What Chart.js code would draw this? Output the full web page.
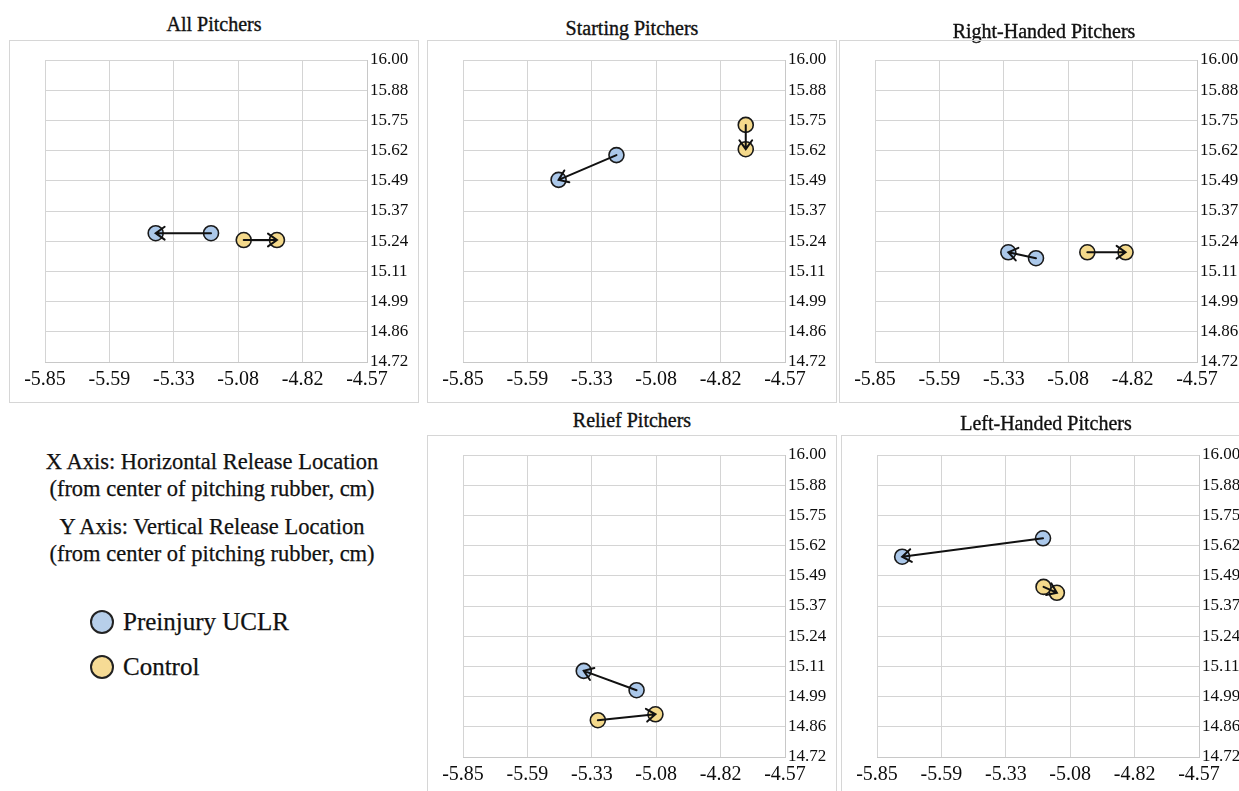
<!DOCTYPE html>
<html>
<head>
<meta charset="utf-8">
<title>Release location</title>
<script src="https://cdn.jsdelivr.net/npm/chart.js@4.4.1/dist/chart.umd.min.js"></script>
<style>
  html, body { margin: 0; padding: 0; background: #fff; overflow: hidden; width: 1239px; height: 791px; }
  body { position: relative; font-family: 'Liberation Serif', 'DejaVu Serif', serif; color: #111; }
  .panel { position: absolute; border: 1px solid #d6d6d6; }
  .panel canvas { display: block; }
  .titulo { position: absolute; width: 420px; text-align: center; font-size: 20px; line-height: 24px; -webkit-text-stroke: 0.35px #111; }
  .nota { position: absolute; left: 12px; width: 400px; text-align: center; font-size: 22.5px; line-height: 27px; -webkit-text-stroke: 0.25px #111; }
  .leyenda { position: absolute; left: 90px; font-size: 25px; line-height: 30px; white-space: nowrap; -webkit-text-stroke: 0.25px #111; }
  .leyenda .punto { display: inline-block; width: 20px; height: 20px; border: 2px solid #222; border-radius: 50%; vertical-align: middle; margin: -4px 9px 0 0; }
</style>
</head>
<body>
<div class="nota" style="top:448px">X Axis: Horizontal Release Location<br>(from center of pitching rubber, cm)</div>
<div class="nota" style="top:513px">Y Axis: Vertical Release Location<br>(from center of pitching rubber, cm)</div>
<div class="leyenda" style="top:607px"><span class="punto" style="background:#b7cfea"></span>Preinjury UCLR</div>
<div class="leyenda" style="top:652px"><span class="punto" style="background:#f6db95"></span>Control</div>

<script>
// ejes (mismas etiquetas en los cinco paneles)
const xTickLabels = ['-5.85', '-5.59', '-5.33', '-5.08', '-4.82', '-4.57'];
const yTickLabels = ['14.72', '14.86', '14.99', '15.11', '15.24', '15.37', '15.49', '15.62', '15.75', '15.88', '16.00'];

const panelTitles = ['All Pitchers', 'Starting Pitchers', 'Right-Handed Pitchers', 'Relief Pitchers', 'Left-Handed Pitchers'];

// Preinjury UCLR: punto de inicio -> punto final (flecha)
const uclrStartX = [-5.19, -5.24, -5.21, -5.16, -5.19];
const uclrStartY = [15.266, 15.597, 15.160, 15.003, 15.647];
const uclrEndX   = [-5.41, -5.47, -5.32, -5.37, -5.75];
const uclrEndY   = [15.266, 15.492, 15.185, 15.085, 15.569];

// Control
const controlStartX = [-5.06, -4.726, -5.006, -5.314, -5.188];
const controlStartY = [15.237, 15.725, 15.185, 14.876, 15.441];
const controlEndX   = [-4.928, -4.726, -4.854, -5.085, -5.135];
const controlEndY   = [15.237, 15.622, 15.185, 14.901, 15.416];

// posicion de cada recuadro en la pagina
const layout = [
  { left: 9,   top: 40,  titleY: 12 },
  { left: 427, top: 40,  titleY: 16 },
  { left: 839, top: 40,  titleY: 19 },
  { left: 427, top: 435, titleY: 408 },
  { left: 841, top: 435, titleY: 411 }
];

const colorUclr = '#abc8ea', colorControl = '#f4d98b';
const fuente = "'Liberation Serif', 'DejaVu Serif', serif";

const flechas = {
  id: 'flechas',
  afterDatasetsDraw(chart) {
    const ctx = chart.ctx;
    chart.data.datasets.forEach((ds, d) => {
      const pts = chart.getDatasetMeta(d).data;
      const a = pts[0], b = pts[1];
      const ang = Math.atan2(b.y - a.y, b.x - a.x);
      const L = 11, abre = 0.62;
      ctx.save();
      ctx.strokeStyle = '#111';
      ctx.lineWidth = 2;
      ctx.lineCap = 'round';
      ctx.beginPath();
      ctx.moveTo(a.x, a.y);
      ctx.lineTo(b.x, b.y);
      ctx.moveTo(b.x - L * Math.cos(ang - abre), b.y - L * Math.sin(ang - abre));
      ctx.lineTo(b.x, b.y);
      ctx.lineTo(b.x - L * Math.cos(ang + abre), b.y - L * Math.sin(ang + abre));
      ctx.stroke();
      ctx.restore();
    });
  }
};

function ticksParejos(etiquetas) {
  return s => {
    const n = etiquetas.length - 1;
    s.ticks = etiquetas.map((t, k) => ({ value: s.min + k * (s.max - s.min) / n }));
  };
}

function crearPanel(i) {
  const pos = layout[i];
  const t = document.createElement('div');
  t.className = 'titulo';
  t.style.left = (pos.left + 205 - 210) + 'px';
  t.style.top = pos.titleY + 'px';
  t.textContent = panelTitles[i];
  document.body.appendChild(t);

  const caja = document.createElement('div');
  caja.className = 'panel';
  caja.style.left = pos.left + 'px';
  caja.style.top = pos.top + 'px';
  const canvas = document.createElement('canvas');
  canvas.width = 408;
  canvas.height = 361;
  caja.appendChild(canvas);
  document.body.appendChild(caja);

  const punto = {
    pointRadius: 7.5, pointHoverRadius: 7.5, pointBorderWidth: 1.6, borderColor: '#1a1a1a', showLine: false
  };

  return new Chart(canvas.getContext('2d'), {
    type: 'scatter',
    data: {
      datasets: [
        Object.assign({ label: 'Preinjury UCLR', backgroundColor: colorUclr,
          data: [{ x: uclrStartX[i], y: uclrStartY[i] }, { x: uclrEndX[i], y: uclrEndY[i] }] }, punto),
        Object.assign({ label: 'Control', backgroundColor: colorControl,
          data: [{ x: controlStartX[i], y: controlStartY[i] }, { x: controlEndX[i], y: controlEndY[i] }] }, punto)
      ]
    },
    options: {
      responsive: false,
      animation: false,
      events: [],
      layout: { padding: { left: 35, top: 19, right: 0, bottom: 0 } },
      plugins: { legend: { display: false }, tooltip: { enabled: false } },
      scales: {
        x: {
          type: 'linear', min: -5.85, max: -4.57,
          afterBuildTicks: ticksParejos(xTickLabels),
          afterFit: s => { s.height = 40; },
          grid: { color: '#d4d4d4', lineWidth: 1, drawTicks: false },
          border: { color: '#c8c8c8', width: 1 },
          ticks: { callback: (v, k) => xTickLabels[k], autoSkip: false, maxRotation: 0,
            padding: 6, color: '#0d0d0d', font: { family: fuente, size: 20 } }
        },
        y: {
          type: 'linear', position: 'right', min: 14.72, max: 16.00,
          afterBuildTicks: ticksParejos(yTickLabels),
          afterFit: s => { s.width = 51; },
          grid: { color: '#d4d4d4', lineWidth: 1, drawTicks: false },
          border: { color: '#c8c8c8', width: 1 },
          ticks: { callback: (v, k) => yTickLabels[k], autoSkip: false,
            padding: 3, color: '#0d0d0d', font: { family: fuente, size: 17 } }
        }
      }
    },
    plugins: [flechas]
  });
}

panelTitles.forEach((t, i) => crearPanel(i));
</script>
</body>
</html>
